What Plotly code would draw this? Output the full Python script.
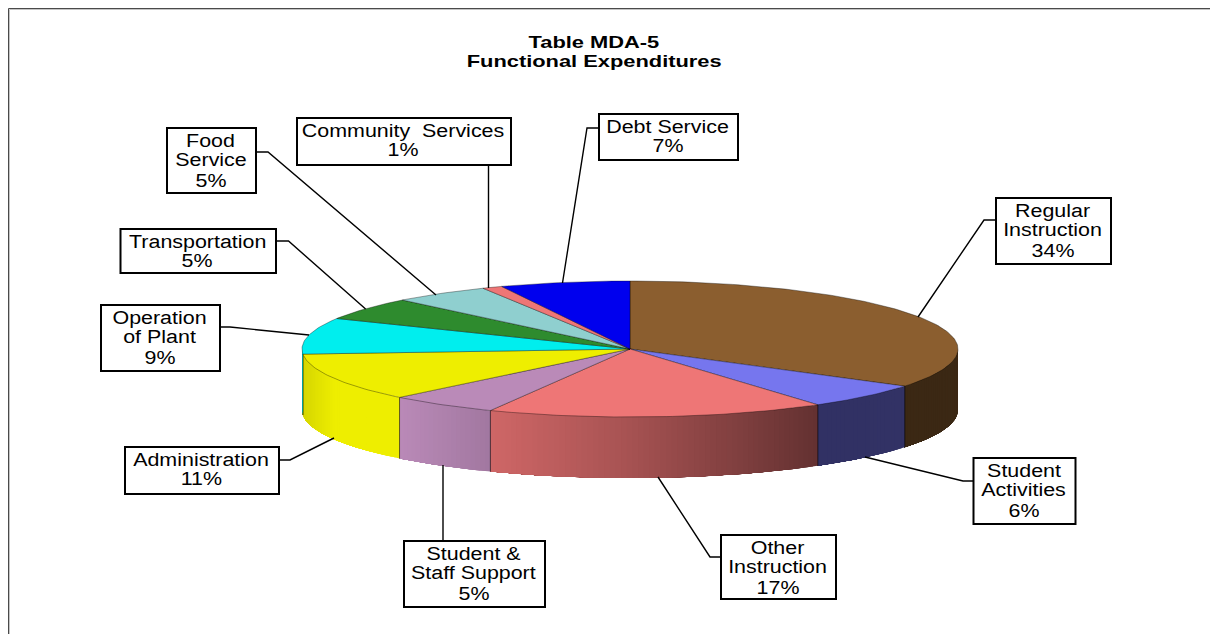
import numpy as np
import plotly.graph_objects as go

# ---- data ----
categories = ["Regular Instruction", "Student Activities", "Other Instruction",
              "Student & Staff Support", "Administration", "Operation of Plant",
              "Transportation", "Food Service", "Community Services", "Debt Service"]
values = [34.2, 6.1, 16.7, 5.4, 11.4, 8.6, 5.4, 4.8, 1.0, 6.4]
percent_labels = ["34%", "6%", "17%", "5%", "11%", "9%", "5%", "5%", "1%", "7%"]
title_lines = ["Table MDA-5", "Functional Expenditures"]
label_lines = [["Regular", "Instruction"], ["Student", "Activities"], ["Other", "Instruction"],
               ["Student &", "Staff Support"], ["Administration"], ["Operation", "of Plant"],
               ["Transportation"], ["Food", "Service"], ["Community  Services"], ["Debt Service"]]
colors = [(139, 94, 47), (118, 118, 238), (238, 118, 118), (186, 138, 184), (238, 238, 0),
          (0, 238, 238), (46, 139, 46), (143, 207, 207), (238, 118, 118), (0, 0, 238)]

# ---- layout (pixel-mapped axes) ----
W, H = 1210, 634
CX, CY, RX, RY, DEPTH = 630, 349, 328, 68, 61
# label box: x0, y0, x1, y1; leader polyline
boxes = [(996, 198, 1111, 264), (973.5, 458, 1075.5, 524), (721, 535, 836, 599), (404, 541, 545, 607),
         (125, 447, 279, 494), (101, 305, 220, 371), (120.5, 229, 276, 273), (167, 128, 256, 193),
         (297, 118, 511, 165), (599, 114, 738, 160)]
leaders = [[(996, 220), (984, 220), (918, 317)], [(973.5, 481), (963, 481), (865, 457)],
           [(721, 557), (710, 557), (658, 477)], [(443, 541), (443, 465)],
           [(279, 460), (290, 460), (334, 438)], [(220, 327), (230, 327), (309, 335)],
           [(276, 241), (288.5, 241), (365.6, 309)], [(256, 152), (268, 152), (436, 295)],
           [(488.5, 165), (488.5, 288)], [(599, 128), (587, 128), (562.5, 283)]]
LABEL_FONT = dict(family="Liberation Sans", size=18, color="black")
TITLE_FONT = dict(family="Liberation Sans", size=17, color="black", weight="bold")
LABEL_STRETCH = 1.19
TITLE_STRETCH = 1.285

# side-face lighting vs. horizontal position on the disc
LIGHT_X = [-1.0, -0.9, -0.7, -0.42, 0.0, 0.57, 1.0]
LIGHT_V = [0.90, 1.0, 1.0, 0.87, 0.70, 0.42, 0.43]


def px(t):
    return CX + RX * np.sin(t)


def py(t):
    return CY - RY * np.cos(t)


fracs = np.array(values) / sum(values)
edges = np.concatenate([[0], np.cumsum(fracs)]) * 2 * np.pi

fig = go.Figure()

# front rim of the disc: each strip runs to the end of its slice and is over-painted by the next
STEP = np.radians(1.0)
for i, c in enumerate(colors):
    a = max(edges[i], np.pi / 2)
    b = min(edges[i + 1], 3 * np.pi / 2)
    if b <= a:
        continue
    n = max(1, int(np.ceil((b - a) / STEP)))
    ts = np.linspace(a, b, n + 1)
    for t0, t1 in zip(ts[:-1], ts[1:]):
        k = np.interp(np.sin((t0 + t1) / 2), LIGHT_X, LIGHT_V)
        col = "rgb(%d,%d,%d)" % tuple(int(v * k) for v in c)
        tt = np.linspace(t0, b, max(2, int((b - t0) / np.radians(1)) + 1))
        xs = np.concatenate([px(tt), px(tt[::-1])])
        ys = np.concatenate([py(tt), py(tt[::-1]) + DEPTH])
        fig.add_trace(go.Scatter(x=xs, y=ys, mode="lines", fill="toself", fillcolor=col,
                                 line=dict(width=0), hoverinfo="skip", showlegend=False))
    # divider between rim segments
    for t in (a, b):
        if np.pi / 2 < t < 3 * np.pi / 2:
            fig.add_trace(go.Scatter(x=[px(t), px(t)], y=[py(t), py(t) + DEPTH], mode="lines",
                                     line=dict(color="rgba(0,0,0,0.55)", width=0.8),
                                     hoverinfo="skip", showlegend=False))

# top face wedges
for i, c in enumerate(colors):
    n = max(4, int((edges[i + 1] - edges[i]) / np.radians(1)))
    tt = np.linspace(edges[i], edges[i + 1], n)
    xs = np.concatenate([[CX], px(tt), [CX]])
    ys = np.concatenate([[CY], py(tt), [CY]])
    col = "rgb(%d,%d,%d)" % c
    fig.add_trace(go.Scatter(x=xs, y=ys, mode="lines", fill="toself", fillcolor=col,
                             line=dict(color="rgba(0,0,0,0.5)", width=0.7),
                             name=categories[i], hoverinfo="name", showlegend=False))

shapes = [
    dict(type="line", x0=9.5, x1=9.5, y0=9.5, y1=H, line=dict(color="#c4c4c4", width=1)),
    dict(type="line", x0=9.5, x1=W, y0=9.5, y1=9.5, line=dict(color="#c4c4c4", width=1)),
    dict(type="line", x0=8.5, x1=8.5, y0=8.5, y1=H, line=dict(color="#4a4a4a", width=1)),
    dict(type="line", x0=8.5, x1=W, y0=8.5, y1=8.5, line=dict(color="#4a4a4a", width=1)),
]
annotations = []
for i, (x0, y0, x1, y1) in enumerate(boxes):
    pts = leaders[i]
    fig.add_trace(go.Scatter(x=[p[0] for p in pts], y=[p[1] for p in pts], mode="lines",
                             line=dict(color="black", width=1.4), hoverinfo="skip", showlegend=False))
    shapes.append(dict(type="rect", x0=x0, x1=x1, y0=y0, y1=y1, fillcolor="white",
                       line=dict(color="black", width=2), layer="above"))
    lines = label_lines[i] + [percent_labels[i]]
    offs = [13, 32, 53] if len(lines) == 3 else [13, 32]
    for line, off in zip(lines, offs):
        annotations.append(dict(x=(x0 + x1) / 2 - 1, y=y0 + off, text=line, showarrow=False, xref="x", yref="y",
                                xanchor="center", yanchor="middle", font=LABEL_FONT))
for line, yy in zip(title_lines, [42, 61]):
    annotations.append(dict(x=594, y=yy, text=line, showarrow=False, xref="x", yref="y",
                            xanchor="center", yanchor="middle", font=TITLE_FONT))

fig.update_layout(
    width=W, height=H, margin=dict(l=0, r=0, t=0, b=0), showlegend=False,
    paper_bgcolor="white", plot_bgcolor="white",
    xaxis=dict(range=[0, W], visible=False, fixedrange=True),
    yaxis=dict(range=[H, 0], visible=False, fixedrange=True),
    shapes=shapes, annotations=annotations,
)

# the reference text is horizontally stretched: widen the real SVG text glyphs to match
post = """
document.body.style.margin='0';document.body.style.overflow='hidden';
function stretchText(){
  document.querySelectorAll('.annotation-text').forEach(function(t){
    if(t.dataset.stretched) return;
    var w=t.getComputedTextLength(); if(!w) return;
    var bold=String(t.style.fontWeight)==='700'||t.style.fontWeight==='bold';
    t.setAttribute('textLength',w*(bold?%s:%s));
    t.setAttribute('lengthAdjust','spacingAndGlyphs');
    t.dataset.stretched='1';
  });
}
stretchText();setTimeout(stretchText,50);setTimeout(stretchText,300);
""" % (TITLE_STRETCH, LABEL_STRETCH)
fig.write_html("out.html", config=dict(displayModeBar=False), post_script=post)
